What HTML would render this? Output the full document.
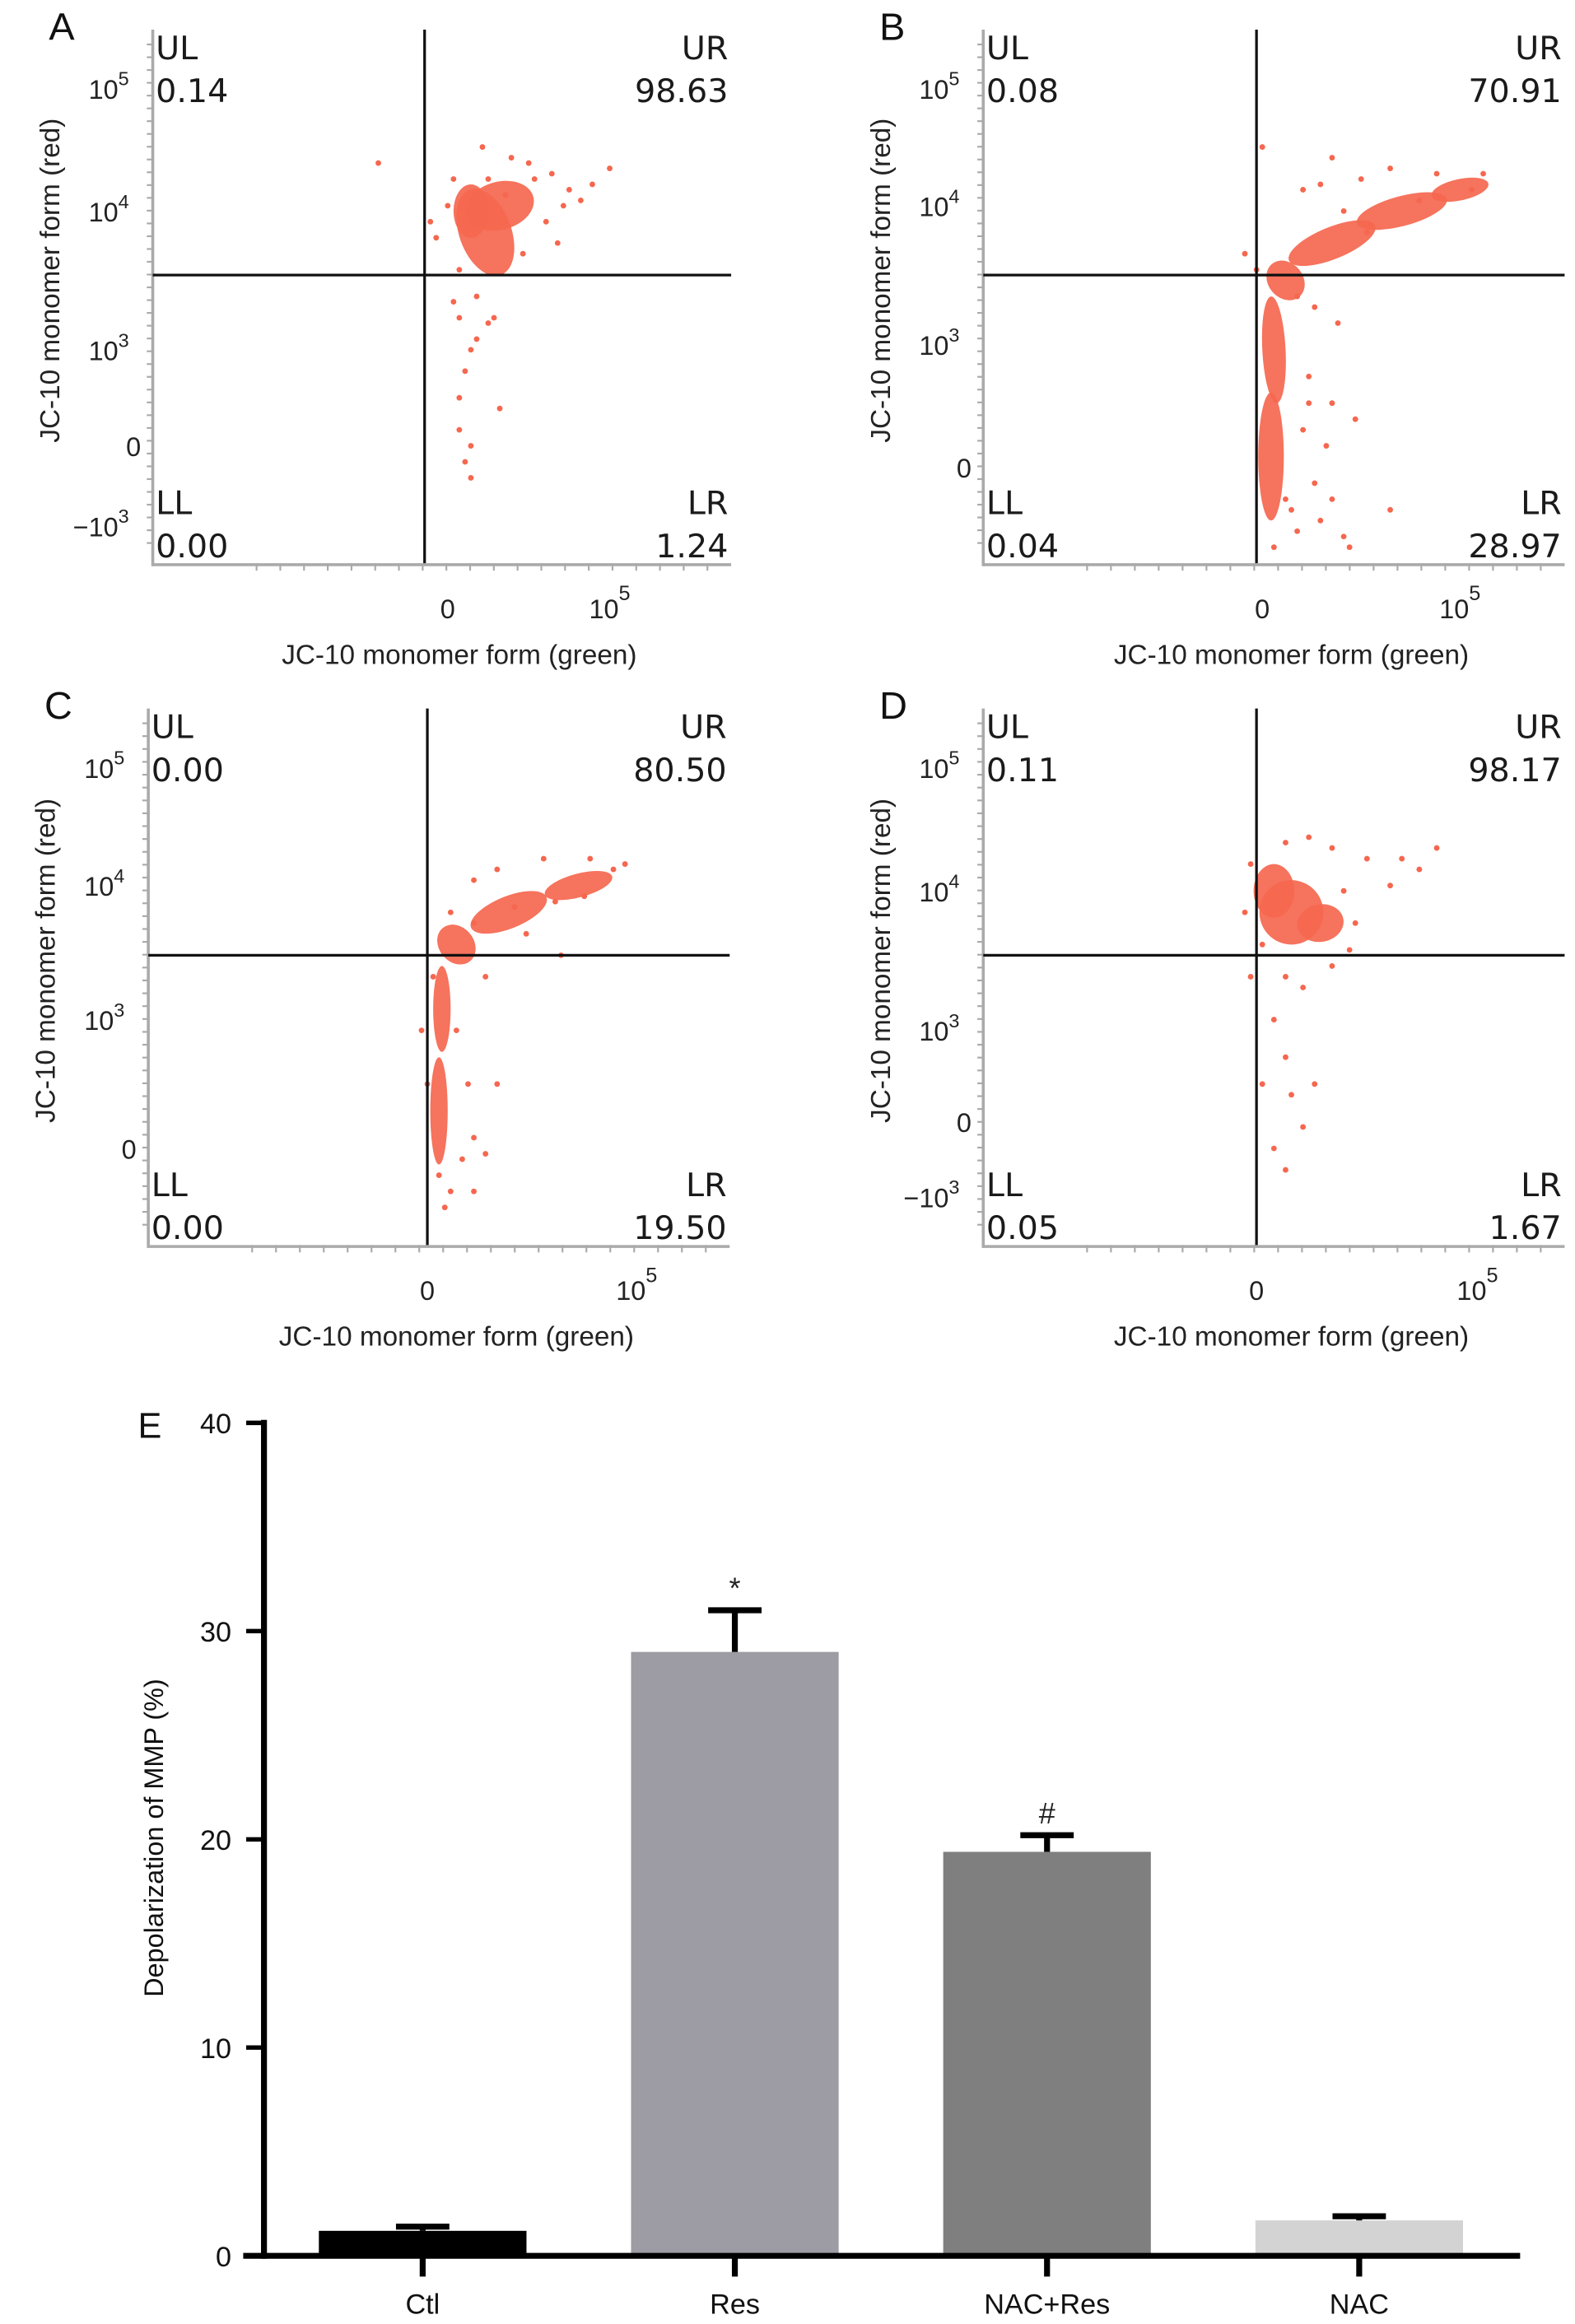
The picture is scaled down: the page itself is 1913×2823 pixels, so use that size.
<!DOCTYPE html>
<html><head><meta charset="utf-8"><style>
html,body{margin:0;padding:0;background:#fff;}
svg{display:block;}
text{font-family:"Liberation Sans",sans-serif;}
.q{font-family:"DejaVu Sans",sans-serif;font-size:22px;fill:#1a1a1a;}
</style></head><body>
<svg id="fig" width="1913" height="2823" viewBox="0 0 1062 1568" preserveAspectRatio="none" xmlns="http://www.w3.org/2000/svg"></svg>
<script>
// ---------- Bar chart data ----------
const barCategories = ["Ctl","Res","NAC+Res","NAC"];
const barValues = [1.2, 29.0, 19.4, 1.7];
const barErrors = [0.2, 2.0, 0.8, 0.2];
const barColors = ["#000000","#9d9ca4","#7f7f7f","#d3d3d3"];
const barMarks = ["", "*", "#", ""];
const yTicks = [0,10,20,30,40];

// ---------- Scatter panel data (fractions of plot box: x, y-from-bottom) ----------
const panelLetters = ["A","B","C","D"];
const ulValues = ["0.14","0.08","0.00","0.11"];
const urValues = ["98.63","70.91","80.50","98.17"];
const llValues = ["0.00","0.04","0.00","0.05"];
const lrValues = ["1.24","28.97","19.50","1.67"];
const gateX = [0.47, 0.47, 0.48, 0.47];
const gateY = [0.54, 0.54, 0.54, 0.54];
// density blobs: [cx, cy, rx, ry, rotationDeg]
const blobsA = [[0.575,0.62,0.045,0.085,-20],[0.6,0.67,0.06,0.045,-15],[0.55,0.66,0.03,0.05,0]];
const blobsB = [[0.495,0.2,0.022,0.12,0],[0.5,0.4,0.02,0.1,-3],[0.52,0.53,0.03,0.04,-40],[0.6,0.6,0.08,0.03,-22],[0.72,0.66,0.08,0.028,-15],[0.82,0.7,0.05,0.02,-12]];
const blobsC = [[0.5,0.25,0.015,0.1,0],[0.505,0.44,0.015,0.08,0],[0.53,0.56,0.03,0.04,-40],[0.62,0.62,0.07,0.03,-22],[0.74,0.67,0.06,0.022,-15]];
const blobsD = [[0.53,0.62,0.055,0.06,-10],[0.5,0.66,0.035,0.05,0],[0.58,0.6,0.04,0.035,-10]];
const dotsA = [[0.39,0.75],[0.79,0.74],[0.76,0.71],[0.66,0.72],[0.62,0.76],[0.51,0.67],[0.49,0.61],[0.71,0.67],[0.56,0.5],[0.53,0.46],[0.56,0.42],[0.54,0.36],[0.53,0.31],[0.6,0.29],[0.53,0.25],[0.55,0.22],[0.54,0.19],[0.55,0.16],[0.52,0.49],[0.59,0.46],[0.64,0.58],[0.68,0.64],[0.61,0.69],[0.58,0.72],[0.48,0.64],[0.72,0.7],[0.65,0.75],[0.7,0.6],[0.57,0.78],[0.52,0.72],[0.69,0.73],[0.74,0.68],[0.53,0.55],[0.55,0.4],[0.58,0.45]];
const dotsB = [[0.48,0.78],[0.6,0.76],[0.55,0.7],[0.58,0.71],[0.65,0.72],[0.7,0.74],[0.78,0.73],[0.86,0.73],[0.84,0.7],[0.75,0.68],[0.66,0.62],[0.62,0.66],[0.45,0.58],[0.47,0.55],[0.54,0.5],[0.57,0.48],[0.6,0.3],[0.61,0.45],[0.56,0.35],[0.55,0.25],[0.57,0.15],[0.6,0.12],[0.62,0.05],[0.58,0.08],[0.53,0.1],[0.54,0.06],[0.7,0.1],[0.63,0.03],[0.56,0.3],[0.52,0.12],[0.59,0.22],[0.5,0.03],[0.64,0.27]];
const dotsC = [[0.56,0.68],[0.6,0.7],[0.68,0.72],[0.76,0.72],[0.8,0.7],[0.82,0.71],[0.7,0.64],[0.65,0.58],[0.71,0.54],[0.56,0.6],[0.52,0.62],[0.49,0.5],[0.53,0.4],[0.55,0.3],[0.56,0.2],[0.58,0.17],[0.52,0.1],[0.56,0.1],[0.6,0.3],[0.48,0.3],[0.51,0.07],[0.63,0.63],[0.75,0.65],[0.58,0.5],[0.54,0.16],[0.5,0.13],[0.47,0.4]];
const dotsD = [[0.46,0.71],[0.52,0.75],[0.56,0.76],[0.6,0.74],[0.66,0.72],[0.72,0.72],[0.78,0.74],[0.75,0.7],[0.7,0.67],[0.64,0.6],[0.62,0.66],[0.45,0.62],[0.46,0.5],[0.48,0.56],[0.52,0.5],[0.55,0.48],[0.5,0.42],[0.52,0.35],[0.53,0.28],[0.55,0.22],[0.5,0.18],[0.52,0.14],[0.57,0.3],[0.6,0.52],[0.48,0.3],[0.63,0.55]];
const blobSets = [blobsA, blobsB, blobsC, blobsD];
const dotSets = [dotsA, dotsB, dotsC, dotsD];
// y tick labels per panel: [label, exponent, fraction]
const yTickSets = [
 [["10","5",0.89],["10","4",0.66],["10","3",0.40],["0","",0.22],["\u221210","3",0.07]],
 [["10","5",0.89],["10","4",0.67],["10","3",0.41],["0","",0.18]],
 [["10","5",0.89],["10","4",0.67],["10","3",0.42],["0","",0.18]],
 [["10","5",0.89],["10","4",0.66],["10","3",0.40],["0","",0.23],["\u221210","3",0.09]]
];
const xZeroFrac = [0.51,0.48,0.48,0.47];
const x5Frac = [0.79,0.82,0.84,0.85];

const NS = "http://www.w3.org/2000/svg";
const svg = document.getElementById("fig");
function mk(tag, attrs, parent){const e=document.createElementNS(NS,tag);for(const k in attrs)e.setAttribute(k,attrs[k]);(parent||svg).appendChild(e);return e;}

const boxes = [{x0:103,y0:20,w:390,h:360},{x0:663,y0:20,w:392,h:360},{x0:100,y0:478,w:392,h:362},{x0:663,y0:478,w:392,h:362}];

boxes.forEach((b,i)=>{
  const g = mk("g",{});
  
  
  const sx=f=>b.x0+f*b.w, sy=f=>b.y0+b.h-f*b.h;
  const L = mk("text",{x:b.x0-70,y:b.y0+7,"font-size":26,fill:"#111"},g); L.textContent=panelLetters[i];
  
  
  for(let k=0;k<40;k++){const yy=b.y0+10+k*(b.h-15)/40;mk("line",{x1:b.x0-4,x2:b.x0,y1:yy,y2:yy,stroke:"#aaa","stroke-width":1.2},g);}
  for(let k=0;k<20;k++){const xx=b.x0+70+k*(b.w-70)/20;mk("line",{x1:xx,x2:xx,y1:b.y0+b.h,y2:b.y0+b.h+5,stroke:"#aaa","stroke-width":1.2},g);}
  mk("line",{x1:b.x0,x2:b.x0,y1:b.y0,y2:b.y0+b.h+2,stroke:"#aaa","stroke-width":2},g);
  mk("line",{x1:b.x0,x2:b.x0+b.w,y1:b.y0+b.h+1,y2:b.y0+b.h+1,stroke:"#aaa","stroke-width":2},g);
  blobSets[i].forEach(d=>{
    const e=mk("ellipse",{cx:sx(d[0]),cy:sy(d[1]),rx:d[2]*b.w,ry:d[3]*b.h,fill:"#f5674f","fill-opacity":0.92,transform:`rotate(${d[4]} ${sx(d[0])} ${sy(d[1])})`},g);
    
    
  });
  dotSets[i].forEach(d=>{
    const c=mk("circle",{cx:sx(d[0]),cy:sy(d[1]),r:1.9,fill:"#f5674f"},g);
    
    
  });
  const gv=mk("line",{x1:sx(gateX[i]),x2:sx(gateX[i]),y1:b.y0,y2:b.y0+b.h,stroke:"#111","stroke-width":1.8},g);
  
  
  const gh=mk("line",{x1:b.x0,x2:b.x0+b.w,y1:sy(gateY[i]),y2:sy(gateY[i]),stroke:"#111","stroke-width":1.8},g);
  
  
  const q=[["UL",ulValues[i],b.x0+2,"start",b.y0+20],["UR",urValues[i],b.x0+b.w-2,"end",b.y0+20],["LL",llValues[i],b.x0+2,"start",b.y0+b.h-33],["LR",lrValues[i],b.x0+b.w-2,"end",b.y0+b.h-33]];
  q.forEach(t=>{
    const a=mk("text",{x:t[2],y:t[4],"text-anchor":t[3],class:"q"},g);a.textContent=t[0];
    
    
    const v=mk("text",{x:t[2],y:t[4]+29,"text-anchor":t[3],class:"q"},g);v.textContent=t[1];
    
    
  });
  yTickSets[i].forEach(t=>{
    const tx=mk("text",{x:b.x0-8,y:sy(t[2])+7,"text-anchor":"end","font-size":18,fill:"#222"},g);
    tx.textContent=t[0];
    if(t[1]){const s=mk("tspan",{dy:-9,"font-size":13},tx);s.textContent=t[1];tx.setAttribute("x",b.x0-16);}
    
    
  });
  const x0t=mk("text",{x:sx(xZeroFrac[i]),y:b.y0+b.h+37,"text-anchor":"middle","font-size":18,fill:"#222"},g);x0t.textContent="0";
  
  
  const x5=mk("text",{x:sx(x5Frac[i]),y:b.y0+b.h+37,"text-anchor":"middle","font-size":18,fill:"#222"},g);x5.textContent="10";
  const s5=mk("tspan",{dy:-12,"font-size":14},x5);s5.textContent="5";
  
  
  const xt=mk("text",{x:b.x0+b.w*0.53,y:b.y0+b.h+68,"text-anchor":"middle","font-size":18.5,fill:"#222"},g);
  xt.textContent="JC-10 monomer form (green)";
  
  
  const cy=b.y0+b.h*0.47, cx=b.x0-63;
  const yt=mk("text",{x:cx,y:cy,"text-anchor":"middle","font-size":18.5,fill:"#222",transform:`rotate(-90 ${cx} ${cy})`},g);
  yt.textContent="JC-10 monomer form (red)";
  
  
});

// ---------- Bar chart ----------
const bc = mk("g",{});


const axX=178, y0=1522, pxPerUnit=14.05;
const yS=v=>y0-v*pxPerUnit;
const xCenter=i=>285+i*210.5, bw=140;
const E=mk("text",{x:93,y:970,"font-size":24,fill:"#111"},bc);E.textContent="E";


barValues.forEach((v,i)=>{
  const cx=xCenter(i);
  const r=mk("rect",{x:cx-bw/2,y:yS(v),width:bw,height:y0-yS(v),fill:barColors[i]},bc);
  
  
  const top=yS(v+barErrors[i]);
  const el=mk("line",{x1:cx,x2:cx,y1:yS(v),y2:top,stroke:"#000","stroke-width":4},bc);
  
  
  const cap=mk("line",{x1:cx-18,x2:cx+18,y1:top,y2:top,stroke:"#000","stroke-width":4},bc);
  
  
  if(barMarks[i]){
    const m=mk("text",{x:cx,y:top-8,"text-anchor":"middle","font-size":20,fill:"#222"},bc);m.textContent=barMarks[i];
    
    
  }
  mk("line",{x1:cx,x2:cx,y1:y0,y2:y0+14,stroke:"#000","stroke-width":4},bc);
  const lb=mk("text",{x:cx,y:y0+39,"text-anchor":"middle","font-size":19,fill:"#111","font-family":"Liberation Sans Narrow, Liberation Sans, sans-serif"},bc);lb.textContent=barCategories[i];
  
  
});
const ya=mk("line",{x1:axX,x2:axX,y1:yS(40)-2,y2:y0+2,stroke:"#000","stroke-width":4},bc);


const xa=mk("line",{x1:axX-14,x2:1025,y1:y0,y2:y0,stroke:"#000","stroke-width":4},bc);


yTicks.forEach(t=>{
  mk("line",{x1:axX-12,x2:axX,y1:yS(t),y2:yS(t),stroke:"#000","stroke-width":3},bc);
  const tl=mk("text",{x:axX-22,y:yS(t)+7,"text-anchor":"end","font-size":19,fill:"#111","font-family":"Liberation Sans Narrow, Liberation Sans, sans-serif"},bc);tl.textContent=t;
  
  
});
const ytt=mk("text",{x:110,y:1240,"text-anchor":"middle","font-size":18,fill:"#111",transform:"rotate(-90 110 1240)"},bc);
ytt.textContent="Depolarization of MMP (%)";


</script>
</body></html>
